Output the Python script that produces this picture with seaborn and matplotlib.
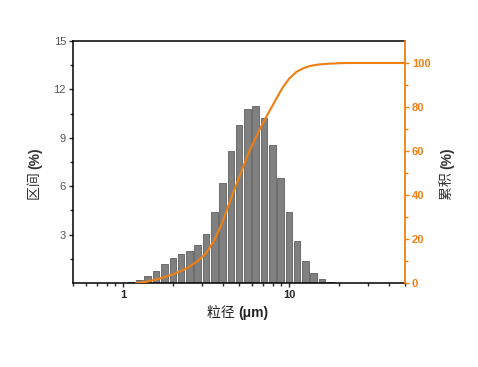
import numpy as np
import pandas as pd
import matplotlib
matplotlib.use('Agg')
import matplotlib.pyplot as plt
import seaborn as sns
from matplotlib.ticker import FixedLocator, FixedFormatter, NullFormatter

# particle size bins (um) and differential volume (%)
sizes = [1.12, 1.26, 1.41, 1.58, 1.78, 2.0, 2.24, 2.51, 2.82, 3.16, 3.55, 3.98, 4.47,
         5.01, 5.62, 6.31, 7.08, 7.94, 8.91, 10.0, 11.2, 12.6, 14.1, 15.8, 17.8]
interval = [0.06, 0.17, 0.43, 0.76, 1.2, 1.55, 1.8, 2.0, 2.36, 3.06, 4.4, 6.2, 8.16,
            9.77, 10.76, 10.97, 10.25, 8.57, 6.53, 4.4, 2.62, 1.36, 0.64, 0.23, 0.08]

# cumulative curve (%)
cum_size = [1.2, 1.4, 1.58, 1.78, 2.0, 2.24, 2.51, 2.82, 3.16, 3.55, 3.98, 4.47, 5.01, 5.62,
            6.31, 7.08, 7.94, 9.1, 10.0, 11.1, 12.2, 13.3, 15.0, 17.5, 22.0, 50.0]
cum_val = [0.0, 0.6, 1.6, 2.7, 3.9, 5.5, 7.4, 10.0, 13.4, 19.5, 27.7, 38.3, 48.0, 57.9,
           66.2, 73.8, 80.5, 88.5, 92.8, 96.0, 97.6, 98.6, 99.3, 99.7, 100.0, 100.0]

x_major = [1, 10]
left_ticks = [3, 6, 9, 12, 15]
right_ticks = [0, 20, 40, 60, 80, 100]

orange = '#F07F12'
cjk = ['Noto Sans CJK SC', 'DejaVu Sans']

sns.set_style('ticks')
plt.rcParams['font.family'] = ['Liberation Sans', 'Noto Sans CJK SC', 'DejaVu Sans']

fig = plt.figure(figsize=(4.78, 3.67), dpi=100)
ax = fig.add_axes([0.1527, 0.2289, 0.6946, 0.6594])
ax2 = ax.twinx()

# cumulative curve on the right axis
df = pd.DataFrame({'size': cum_size, 'cum': cum_val})
sns.lineplot(data=df, x='size', y='cum', ax=ax2, color=orange, linewidth=1.5, sort=False)

# bars, each about 80% of the log-spaced bin
r = 10 ** 0.05
c = np.array(sizes)
lefts = c / r ** 0.4
rights = c * r ** 0.4
ax.bar(lefts, np.array(interval), width=rights - lefts, align='edge',
       color='#808080', edgecolor='#5f5f5f', linewidth=0.6, zorder=2)

ax.set_xscale('log')
ax.set_xlim(0.5, 50)
ax.set_ylim(0, 15)
ax.xaxis.set_major_locator(FixedLocator(x_major))
ax.xaxis.set_major_formatter(FixedFormatter(['1', '10']))
minors = [m * 10 ** e for e in (-1, 0, 1) for m in range(2, 10)]
ax.xaxis.set_minor_locator(FixedLocator([v for v in minors if 0.5 <= v <= 50]))
ax.xaxis.set_minor_formatter(NullFormatter())
for lab in ax.get_xticklabels():
    lab.set_fontweight('bold')
    lab.set_fontsize(8)
ax.set_yticks(left_ticks)
ax.set_yticklabels([str(t) for t in left_ticks], fontsize=8, color='#555555')
ax.yaxis.set_minor_locator(FixedLocator([1.5, 4.5, 7.5, 10.5, 13.5]))
ax.tick_params(axis='both', which='major', direction='out', length=3, width=1, pad=2)
ax.tick_params(axis='both', which='minor', direction='out', length=2, width=1)
ax.tick_params(axis='x', labelsize=8)
for s in ['left', 'bottom', 'top']:
    ax.spines[s].set_linewidth(1.1)
    ax.spines[s].set_color('black')
ax.spines['right'].set_visible(False)

ax2.set_ylim(0, 110)
ax2.set_yticks(right_ticks)
ax2.set_yticklabels([str(t) for t in right_ticks], fontsize=8, fontweight='bold', color=orange)
ax2.yaxis.set_minor_locator(FixedLocator([10, 30, 50, 70, 90]))
ax2.tick_params(axis='y', which='major', direction='out', length=3, width=1, color=orange, pad=2)
ax2.tick_params(axis='y', which='minor', direction='out', length=2, width=1, color=orange)
for s in ['left', 'bottom', 'top']:
    ax2.spines[s].set_visible(False)
ax2.spines['right'].set_color(orange)
ax2.spines['right'].set_linewidth(1.3)
ax2.set_xlabel('')
ax2.set_ylabel('')

# axis titles: Chinese part regular, unit part bold
xl = fig.text(0.433, 0.147, '粒径 ', family=cjk, fontsize=10, ha='left', va='center',
              color='#222222')
ax.annotate('(μm)', xy=(1, 0.5), xycoords=xl, ha='left', va='center', fontsize=10,
            fontweight='bold', color='#222222', annotation_clip=False)
yl = fig.text(0.073, 0.455, '区间 ', family=cjk, fontsize=10, rotation=90,
              ha='center', va='bottom', color='#333333')
ax.annotate('(%)', xy=(0.5, 1), xycoords=yl, ha='center', va='bottom', fontsize=10,
            rotation=90, fontweight='bold', color='#333333', annotation_clip=False)
yr = fig.text(0.935, 0.455, '累积 ', family=cjk, fontsize=10, rotation=90,
              ha='center', va='bottom', color='#333333')
ax.annotate('(%)', xy=(0.5, 1), xycoords=yr, ha='center', va='bottom', fontsize=10,
            rotation=90, fontweight='bold', color='#333333', annotation_clip=False)

fig.savefig('out.png', dpi=100)
